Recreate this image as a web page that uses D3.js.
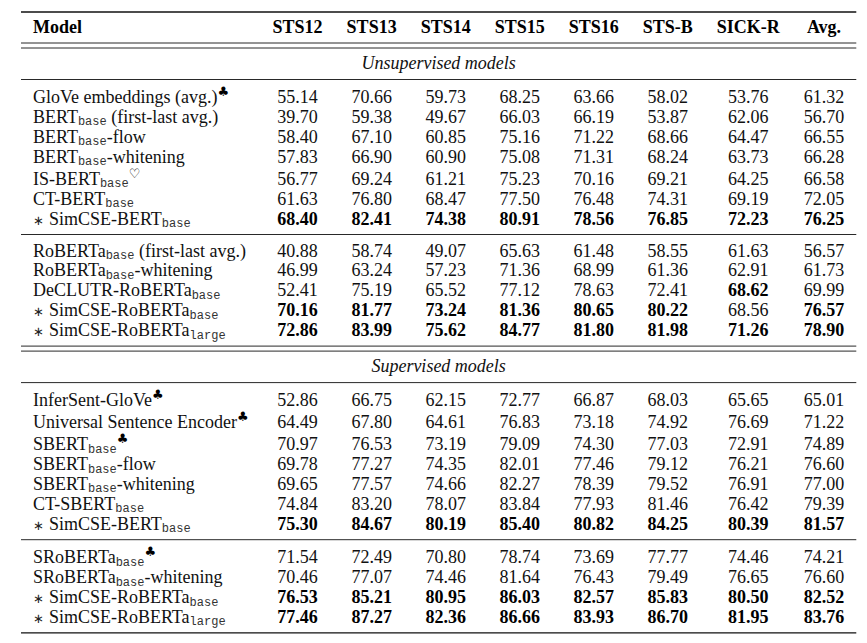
<!DOCTYPE html>
<html>
<head>
<meta charset="utf-8">
<script src="https://cdn.jsdelivr.net/npm/d3@7"></script>
<style>
body { margin: 0; background: #fff; }
text { font-family: "Liberation Serif", "Times New Roman", serif; font-size: 18px; fill: #111; }
.head, .best { font-weight: bold; fill: #000; }
.section { font-style: italic; }
.sub { font-family: "Liberation Mono", "DejaVu Sans Mono", monospace; font-size: 12px; fill: #333; }
.sup { font-family: "DejaVu Sans", sans-serif; font-size: 13px; fill: #000; }
.ast { font-family: "DejaVu Sans", sans-serif; font-size: 13px; fill: #222; }
</style>
</head>
<body>
<div id="table"></div>
<script>
const columns = ["STS12", "STS13", "STS14", "STS15", "STS16", "STS-B", "SICK-R", "Avg."];
const sectionTitles = ["Unsupervised models", "Supervised models"];

// _xxx = subscript, ^x = superscript, * = leading marker of our models
const unsupBertModels = [
    "GloVe embeddings (avg.)^♣",
    "BERT_base (first-last avg.)",
    "BERT_base-flow",
    "BERT_base-whitening",
    "IS-BERT_base^♡",
    "CT-BERT_base",
    "*SimCSE-BERT_base"
];
const unsupBertScores = [
    [55.14, 70.66, 59.73, 68.25, 63.66, 58.02, 53.76, 61.32],
    [39.70, 59.38, 49.67, 66.03, 66.19, 53.87, 62.06, 56.70],
    [58.40, 67.10, 60.85, 75.16, 71.22, 68.66, 64.47, 66.55],
    [57.83, 66.90, 60.90, 75.08, 71.31, 68.24, 63.73, 66.28],
    [56.77, 69.24, 61.21, 75.23, 70.16, 69.21, 64.25, 66.58],
    [61.63, 76.80, 68.47, 77.50, 76.48, 74.31, 69.19, 72.05],
    [68.40, 82.41, 74.38, 80.91, 78.56, 76.85, 72.23, 76.25]
];
const unsupBertBest = [[], [], [], [], [], [], [0, 1, 2, 3, 4, 5, 6, 7]];

const unsupRobertaModels = [
    "RoBERTa_base (first-last avg.)",
    "RoBERTa_base-whitening",
    "DeCLUTR-RoBERTa_base",
    "*SimCSE-RoBERTa_base",
    "*SimCSE-RoBERTa_large"
];
const unsupRobertaScores = [
    [40.88, 58.74, 49.07, 65.63, 61.48, 58.55, 61.63, 56.57],
    [46.99, 63.24, 57.23, 71.36, 68.99, 61.36, 62.91, 61.73],
    [52.41, 75.19, 65.52, 77.12, 78.63, 72.41, 68.62, 69.99],
    [70.16, 81.77, 73.24, 81.36, 80.65, 80.22, 68.56, 76.57],
    [72.86, 83.99, 75.62, 84.77, 81.80, 81.98, 71.26, 78.90]
];
const unsupRobertaBest = [[], [], [6], [0, 1, 2, 3, 4, 5, 7], [0, 1, 2, 3, 4, 5, 6, 7]];

const supBertModels = [
    "InferSent-GloVe^♣",
    "Universal Sentence Encoder^♣",
    "SBERT_base^♣",
    "SBERT_base-flow",
    "SBERT_base-whitening",
    "CT-SBERT_base",
    "*SimCSE-BERT_base"
];
const supBertScores = [
    [52.86, 66.75, 62.15, 72.77, 66.87, 68.03, 65.65, 65.01],
    [64.49, 67.80, 64.61, 76.83, 73.18, 74.92, 76.69, 71.22],
    [70.97, 76.53, 73.19, 79.09, 74.30, 77.03, 72.91, 74.89],
    [69.78, 77.27, 74.35, 82.01, 77.46, 79.12, 76.21, 76.60],
    [69.65, 77.57, 74.66, 82.27, 78.39, 79.52, 76.91, 77.00],
    [74.84, 83.20, 78.07, 83.84, 77.93, 81.46, 76.42, 79.39],
    [75.30, 84.67, 80.19, 85.40, 80.82, 84.25, 80.39, 81.57]
];
const supBertBest = [[], [], [], [], [], [], [0, 1, 2, 3, 4, 5, 6, 7]];

const supRobertaModels = [
    "SRoBERTa_base^♣",
    "SRoBERTa_base-whitening",
    "*SimCSE-RoBERTa_base",
    "*SimCSE-RoBERTa_large"
];
const supRobertaScores = [
    [71.54, 72.49, 70.80, 78.74, 73.69, 77.77, 74.46, 74.21],
    [70.46, 77.07, 74.46, 81.64, 76.43, 79.49, 76.65, 76.60],
    [76.53, 85.21, 80.95, 86.03, 82.57, 85.83, 80.50, 82.52],
    [77.46, 87.27, 82.36, 86.66, 83.93, 86.70, 81.95, 83.76]
];
const supRobertaBest = [[], [], [0, 1, 2, 3, 4, 5, 6, 7], [0, 1, 2, 3, 4, 5, 6, 7]];

const blocks = [
    {section: 0, models: unsupBertModels, scores: unsupBertScores, best: unsupBertBest},
    {section: 0, models: unsupRobertaModels, scores: unsupRobertaScores, best: unsupRobertaBest},
    {section: 1, models: supBertModels, scores: supBertScores, best: supBertBest},
    {section: 1, models: supRobertaModels, scores: supRobertaScores, best: supRobertaBest}
];

const frame_width = 867;
const frame_height = 643;
const left = 21;
const sep = 12;         // like \tabcolsep
const pitch = 19.9;     // row spacing
const supExtra = 2.1;   // extra room for rows with a superscript
const fmt = d3.format(".2f");

const svg = d3.select("#table")
    .append("svg")
        .attr("width", frame_width)
        .attr("height", frame_height);

// split "*BERT_base^♣" into pieces
function parseName(s) {
    return s.split(/(^\*|_[a-z]+|\^.)/).filter(p => p && p.length).map(p => {
        if (p === "*") return {t: "∗", kind: "ast"};
        if (p[0] === "_") return {t: p.slice(1), kind: "sub"};
        if (p[0] === "^") return {t: p.slice(1), kind: "sup"};
        return {t: p, kind: "normal"};
    });
}
const shift = {normal: 0, sub: 2.5, sup: -7, ast: 0};
const gapAfter = {ast: 5};

function measure(str, cls) {
    const t = svg.append("text").attr("class", cls).text(str);
    const w = t.node().getComputedTextLength();
    t.remove();
    return w;
}

// ---- vertical layout ----
const rules = [];
const rows = [];
const titles = [];
let y = 12;
rules.push({y: y, w: 1.4});
const headerBaseline = y + 21;
y += 31;
rules.push({y: y, w: 0.9});
y += 5;
rules.push({y: y, w: 0.9});

let lastBaseline = 0;
blocks.forEach((b, bi) => {
    const firstInSection = bi === 0 || blocks[bi - 1].section !== b.section;
    if (firstInSection) {
        titles.push({text: sectionTitles[b.section], y: y + 20.5});
        y += 31.5;
        rules.push({y: y, w: 0.9});
    } else {
        y = lastBaseline + 10;
        rules.push({y: y, w: 0.9});
    }
    b.models.forEach((m, i) => {
        const hasSup = m.indexOf("^") >= 0;
        let base;
        if (i === 0) base = y + 22 + (hasSup ? 1.5 : 0);
        else base = lastBaseline + pitch + (hasSup ? supExtra : 0);
        rows.push({name: m, scores: b.scores[i], best: b.best[i], baseline: base});
        lastBaseline = base;
    });
    const lastInSection = bi === blocks.length - 1 || blocks[bi + 1].section !== b.section;
    if (lastInSection) {
        if (bi === blocks.length - 1) {
            rules.push({y: lastBaseline + 10, w: 1.4});
        } else {
            rules.push({y: lastBaseline + 10, w: 0.9});
            y = lastBaseline + 15;
            rules.push({y: y, w: 0.9});
        }
    }
});

// ---- model names ----
const nameText = svg.selectAll(".name")
    .data(rows)
    .enter()
    .append("text")
        .attr("class", "name")
        .attr("x", left + sep)
        .attr("y", d => d.baseline);

nameText.each(function(d) {
    let cur = 0;
    let gap = 0;
    const el = d3.select(this);
    parseName(d.name).forEach(p => {
        el.append("tspan")
            .attr("class", p.kind === "normal" ? null : p.kind)
            .attr("dx", gap || null)
            .attr("dy", shift[p.kind] - cur)
            .text(p.t);
        cur = shift[p.kind];
        gap = gapAfter[p.kind] || 0;
    });
});

let modelW = measure("Model", "head");
nameText.each(function() { modelW = Math.max(modelW, this.getBBox().width); });

// ---- column widths like a tabular ----
const colW = columns.map((c, j) => {
    let w = measure(c, "head");
    rows.forEach(r => {
        w = Math.max(w, measure(fmt(r.scores[j]), r.best.includes(j) ? "best" : ""));
    });
    return w;
});
let cx = left + modelW + 2 * sep;
const centers = colW.map(w => {
    const c = cx + sep + w / 2;
    cx += w + 2 * sep;
    return c;
});
const right = cx;

const x_scale = d3.scaleOrdinal()
    .domain(columns)
    .range(centers);

// ---- header ----
svg.append("text")
    .attr("class", "head")
    .attr("x", left + sep)
    .attr("y", headerBaseline)
    .text("Model");

svg.selectAll(".colhead")
    .data(columns)
    .enter()
    .append("text")
        .attr("class", "head colhead")
        .attr("x", d => x_scale(d))
        .attr("y", headerBaseline)
        .attr("text-anchor", "middle")
        .text(d => d);

// ---- section titles ----
svg.selectAll(".section")
    .data(titles)
    .enter()
    .append("text")
        .attr("class", "section")
        .attr("x", (left + right) / 2)
        .attr("y", d => d.y)
        .attr("text-anchor", "middle")
        .text(d => d.text);

// ---- cells ----
const cells = [];
rows.forEach(r => {
    columns.forEach((c, j) => {
        cells.push({col: c, value: r.scores[j], best: r.best.includes(j), baseline: r.baseline});
    });
});

svg.selectAll(".cell")
    .data(cells)
    .enter()
    .append("text")
        .attr("class", d => d.best ? "cell best" : "cell")
        .attr("x", d => x_scale(d.col))
        .attr("y", d => d.baseline)
        .attr("text-anchor", "middle")
        .text(d => fmt(d.value));

// ---- rules ----
svg.selectAll(".rule")
    .data(rules)
    .enter()
    .append("line")
        .attr("class", "rule")
        .attr("x1", left)
        .attr("x2", right)
        .attr("y1", d => d.y)
        .attr("y2", d => d.y)
        .attr("stroke", "#111")
        .attr("stroke-width", d => d.w);
</script>
</body>
</html>
